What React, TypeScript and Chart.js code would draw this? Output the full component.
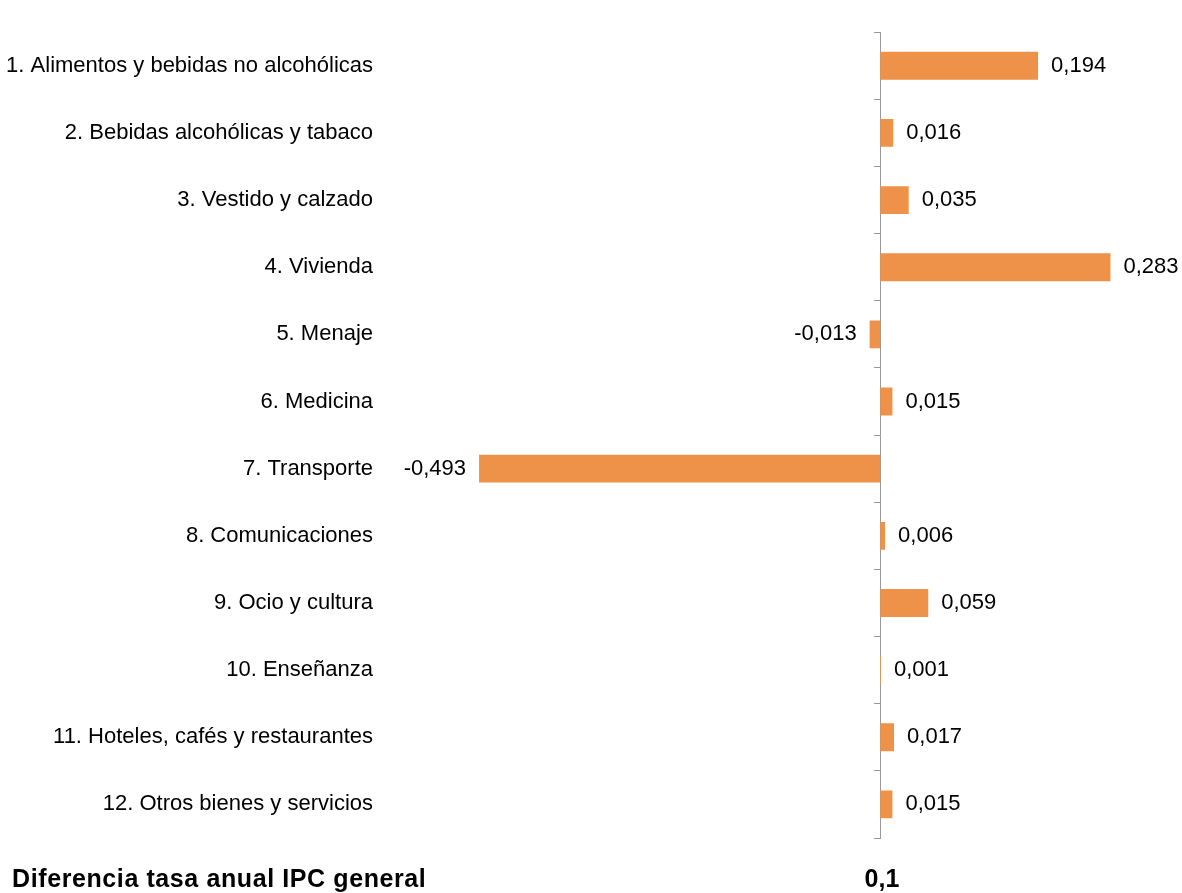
import { useEffect, useRef } from 'react';
import { Chart, registerables } from 'chart.js';

Chart.register(...registerables);

const CATEGORIES = [
  '1. Alimentos y bebidas no alcohólicas',
  '2. Bebidas alcohólicas y tabaco',
  '3. Vestido y calzado',
  '4. Vivienda',
  '5. Menaje',
  '6. Medicina',
  '7. Transporte',
  '8. Comunicaciones',
  '9. Ocio y cultura',
  '10. Enseñanza',
  '11. Hoteles, cafés y restaurantes',
  '12. Otros bienes y servicios',
];

const CONTRIBUTIONS = [0.194, 0.016, 0.035, 0.283, -0.013, 0.015, -0.493, 0.006, 0.059, 0.001, 0.017, 0.015];

const TOTAL_LABEL = 'Diferencia tasa anual IPC general';
const TOTAL_VALUE = '0,1';

const BAR_COLOR = '#EE9249';
const AXIS_COLOR = '#9A9A9A';
const FONT = "'Liberation Sans', Arial, sans-serif";

const fmt = (v: number) => v.toFixed(3).replace('.', ',');

// value labels just outside the end of each bar
const valueLabels = {
  id: 'valueLabels',
  afterDatasetsDraw(chart: Chart) {
    const { ctx } = chart;
    const meta = chart.getDatasetMeta(0);
    ctx.save();
    ctx.font = `22px ${FONT}`;
    ctx.fillStyle = '#000';
    ctx.textBaseline = 'middle';
    meta.data.forEach((bar: any, i: number) => {
      const v = CONTRIBUTIONS[i];
      if (v >= 0) {
        ctx.textAlign = 'left';
        ctx.fillText(fmt(v), bar.x + 13, bar.y);
      } else {
        ctx.textAlign = 'right';
        ctx.fillText(fmt(v), bar.x - 13, bar.y);
      }
    });
    ctx.restore();
  },
};

export default function App() {
  const canvasRef = useRef<HTMLCanvasElement>(null);
  const chartRef = useRef<Chart | null>(null);

  useEffect(() => {
    if (!canvasRef.current) return;
    if (chartRef.current) chartRef.current.destroy();

    chartRef.current = new Chart(canvasRef.current, {
      type: 'bar',
      data: {
        labels: CATEGORIES,
        datasets: [
          {
            data: CONTRIBUTIONS,
            backgroundColor: BAR_COLOR,
            borderWidth: 0,
            barPercentage: 0.415,
            categoryPercentage: 1,
          },
        ],
      },
      options: {
        indexAxis: 'y',
        animation: false,
        responsive: true,
        maintainAspectRatio: false,
        layout: { padding: { top: 18, bottom: 55, left: 0, right: 17 } },
        plugins: {
          legend: { display: false },
          tooltip: { enabled: false },
        },
        scales: {
          x: {
            display: false,
            min: -0.6,
            max: 0.35,
          },
          y: {
            position: 'left',
            border: { display: false },
            grid: { display: false, drawTicks: false },
            ticks: {
              color: '#000',
              padding: 19,
              font: { family: FONT, size: 22 },
            },
            // labels are long; keep the whole column so the zero line sits where it should
            afterFit: (scale: any) => {
              scale.width = 392;
            },
          },
          y2: {
            type: 'category',
            position: { x: 0 },
            offset: true,
            border: { display: true, color: AXIS_COLOR, width: 1 },
            grid: {
              offset: true,
              drawOnChartArea: false,
              drawTicks: true,
              tickLength: 6,
              color: AXIS_COLOR,
            },
            ticks: { display: false },
          },
        },
      },
      plugins: [valueLabels],
    });

    return () => {
      if (chartRef.current) {
        chartRef.current.destroy();
        chartRef.current = null;
      }
    };
  }, []);

  return (
    <div style={{ position: 'absolute', left: 0, top: 0, width: 1182, height: 893, background: '#fff', overflow: 'hidden' }}>
      <canvas ref={canvasRef} />
      <div
        style={{
          position: 'absolute',
          left: 12,
          top: 866,
          fontFamily: FONT,
          fontWeight: 'bold',
          fontSize: 25,
          lineHeight: '25px',
          letterSpacing: '0.6px',
          whiteSpace: 'nowrap',
        }}
      >
        {TOTAL_LABEL}
      </div>
      <div
        style={{
          position: 'absolute',
          left: 842,
          width: 80,
          textAlign: 'center',
          top: 866,
          fontFamily: FONT,
          fontWeight: 'bold',
          fontSize: 25,
          lineHeight: '25px',
          whiteSpace: 'nowrap',
        }}
      >
        {TOTAL_VALUE}
      </div>
    </div>
  );
}
